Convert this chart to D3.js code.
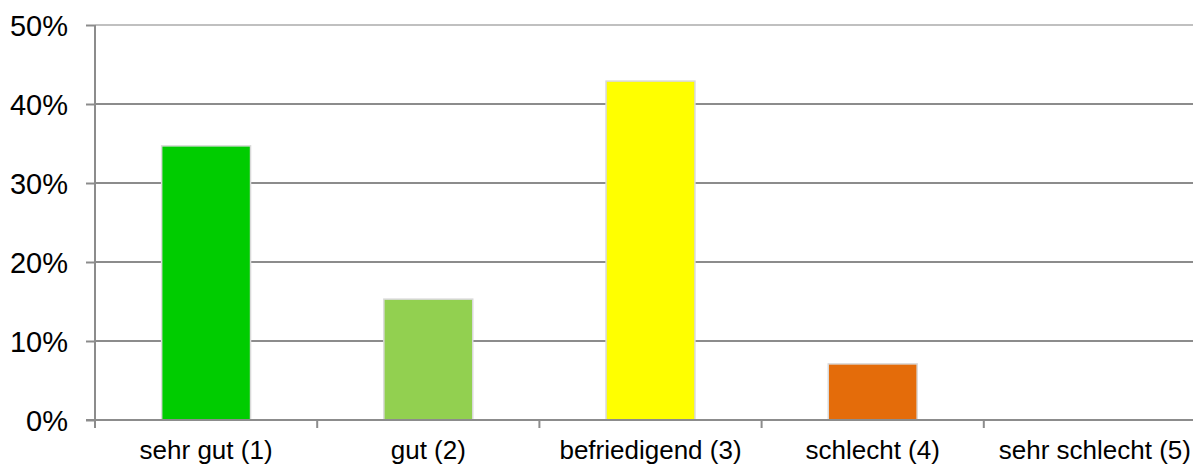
<!DOCTYPE html>
<html>
<head>
<meta charset="utf-8">
<script src="https://cdn.jsdelivr.net/npm/d3@7"></script>
<style>
  html, body { margin: 0; padding: 0; background: #fff; }
  svg { display: block; font-family: "Liberation Sans", Arial, sans-serif; }
</style>
</head>
<body>
<svg id="chart" width="1193" height="464"></svg>
<script>
// Rating categories and share of answers (percent)
const categories = ["sehr gut (1)", "gut (2)", "befriedigend (3)", "schlecht (4)", "sehr schlecht (5)"];
const shares = [34.7, 15.3, 42.9, 7.1, 0];
const barColors = ["#00cc00", "#92d050", "#ffff00", "#e46c0a", "#7f7f7f"];
const yTicks = [0, 10, 20, 30, 40, 50];

(function () {
  const svg = d3.select("#chart");
  const W = 1193;
  const plotLeft = 95, plotTop = 25, plotBottom = 420;
  const step = 222.2;

  const x = d3.scaleBand()
    .domain(categories)
    .range([plotLeft, plotLeft + step * categories.length])
    .paddingInner(0.6)
    .paddingOuter(0.3);

  const y = d3.scaleLinear().domain([0, 50]).range([plotBottom, plotTop]);

  // horizontal gridlines
  svg.append("g").selectAll("line")
    .data(yTicks.filter(d => d > 0))
    .join("line")
    .attr("x1", plotLeft).attr("x2", W)
    .attr("y1", d => y(d)).attr("y2", d => y(d))
    .attr("stroke", d => d === 50 ? "#c0c0c0" : "#8c8c8c")
    .attr("stroke-width", 2);

  // bars
  svg.append("g").selectAll("rect")
    .data(categories.map((c, i) => ({ c, v: shares[i], col: barColors[i] })).filter(d => d.v > 0))
    .join("rect")
    .attr("x", d => x(d.c))
    .attr("y", d => y(d.v))
    .attr("width", x.bandwidth())
    .attr("height", d => y(0) - y(d.v))
    .attr("fill", d => d.col)
    .attr("stroke", "#d9d9d9")
    .attr("stroke-width", 1.5);

  // y axis
  const yAxis = d3.axisLeft(y)
    .tickValues(yTicks)
    .tickSize(9)
    .tickPadding(18)
    .tickFormat(d => d + "%");
  const gy = svg.append("g").attr("transform", `translate(${plotLeft},0)`).call(yAxis);
  gy.select(".domain").remove();
  gy.selectAll(".tick line").attr("stroke", "#8c8c8c").attr("stroke-width", 2);
  gy.selectAll(".tick text")
    .attr("fill", "#000")
    .attr("font-size", 29)
    .attr("font-family", "Liberation Sans, Arial, sans-serif")
    .attr("dy", "0.36em");
  svg.append("line")
    .attr("x1", plotLeft).attr("x2", plotLeft)
    .attr("y1", plotTop).attr("y2", plotBottom + 8)
    .attr("stroke", "#8c8c8c").attr("stroke-width", 2);

  // x axis line
  svg.append("line")
    .attr("x1", plotLeft - 9).attr("x2", W)
    .attr("y1", plotBottom).attr("y2", plotBottom)
    .attr("stroke", "#8c8c8c").attr("stroke-width", 2);

  // category boundary ticks
  const bounds = categories.map(c => x(c) - x.step() * x.paddingInner() / 2);
  bounds.push(plotLeft + step * categories.length);
  svg.append("g").selectAll("line")
    .data(bounds)
    .join("line")
    .attr("x1", d => d).attr("x2", d => d)
    .attr("y1", plotBottom).attr("y2", plotBottom + 8)
    .attr("stroke", "#8c8c8c").attr("stroke-width", 2);

  // category labels
  svg.append("g").selectAll("text")
    .data(categories)
    .join("text")
    .attr("x", d => x(d) + x.bandwidth() / 2)
    .attr("y", 459)
    .attr("text-anchor", "middle")
    .attr("font-size", 26)
    .attr("fill", "#000")
    .text(d => d);
})();
</script>
</body>
</html>
